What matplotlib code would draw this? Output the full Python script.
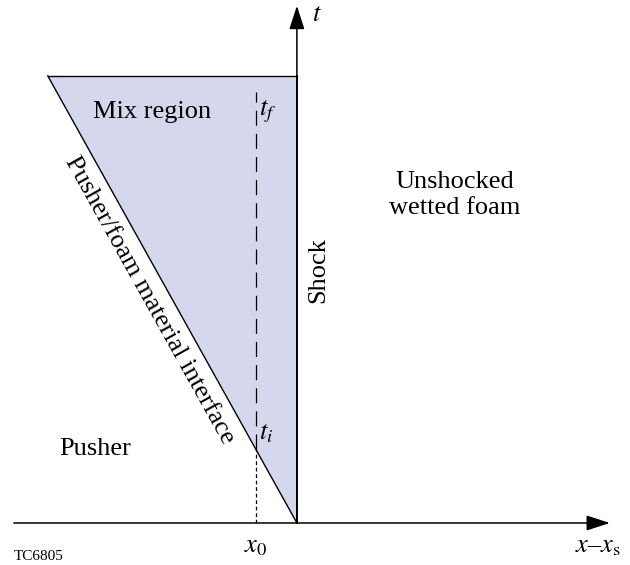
import numpy as np
import matplotlib.pyplot as plt

plt.rcParams['font.family'] = 'Liberation Serif'
plt.rcParams['mathtext.fontset'] = 'stix'

# diagram quantities (shock sits at x - x_s = 0, t = 0 at the origin)
t_f = 1.0            # end of the mix region
x_left = -0.557      # interface position at t_f
x_0 = -0.092         # probe position
t_i = t_f * x_0 / x_left   # time the interface reaches x_0

axis_x = (-0.633, 0.700)
axis_t = (0.0, 1.157)

fig = plt.figure(figsize=(6.3, 5.65), dpi=100)
ax = fig.add_axes([0, 0, 1, 1])
ax.set_xlim(-0.664, 0.745)
ax.set_ylim(-0.094, 1.170)
ax.axis('off')

# shaded mix region between interface and shock
ax.fill([x_left, 0, 0], [t_f, t_f, 0], color='#d5d7ed', lw=0, zorder=1)
ax.plot([x_left, 0], [t_f, t_f], color='black', lw=1.0, zorder=2)
ax.plot([x_left, 0], [t_f, 0], color='black', lw=1.0, zorder=2)
ax.plot([0, 0], [0, t_f], color='black', lw=1.3, zorder=2)

# x_0 line: long dashes inside the mix region, short dashes below t_i
ax.plot([x_0, x_0], [t_i, t_f - 0.036], color='black', lw=0.9,
        dashes=(12, 6.5), zorder=2)
ax.plot([x_0, x_0], [0, t_i], color='black', lw=0.9,
        dashes=(3, 2.2), zorder=2)

# axes with arrow heads
arrow = dict(arrowstyle='-|>,head_length=1.45,head_width=0.47',
             color='black', lw=1.1, shrinkA=0, shrinkB=0)
ax.annotate('', xy=(axis_x[1], 0), xytext=(axis_x[0], 0), arrowprops=arrow)
ax.annotate('', xy=(0, axis_t[1]), xytext=(0, axis_t[0]), arrowprops=arrow)

fs = 19
ax.text(0.045, 1.136, r'$t$', fontsize=fs, ha='center', va='center')
ax.text(0.673, -0.053, r'$x$–$x_{\mathrm{s}}$', fontsize=fs,
        ha='center', va='center')
ax.text(x_0, -0.053, r'$x_0$', fontsize=fs, ha='center', va='center')
ax.text(x_0 + 0.008, t_f - 0.08, r'$t_f$', fontsize=fs, ha='left', va='center')
ax.text(x_0 + 0.008, t_i + 0.035, r'$t_i$', fontsize=fs, ha='left', va='center')

ax.text(-0.324, t_f - 0.081, 'Mix region', fontsize=fs, ha='center', va='center')
ax.text(0.353, 0.734, 'Unshocked\nwetted foam', fontsize=fs, ha='center',
        va='center', linespacing=1.2)
ax.text(0.047, 0.566, 'Shock', fontsize=fs, rotation=90, ha='center', va='center')
ax.text(-0.452, 0.166, 'Pusher', fontsize=fs, ha='center', va='center')

# label along the interface, rotated to its on-screen slope
p1 = ax.transData.transform((x_left, t_f))
p2 = ax.transData.transform((0, 0))
ang = np.degrees(np.arctan2(p2[1] - p1[1], p2[0] - p1[0]))
ax.text(-0.329, 0.499, 'Pusher/foam material interface', fontsize=fs,
        rotation=ang, rotation_mode='anchor', ha='center', va='center')

ax.text(-0.634, -0.075, 'TC6805', fontsize=11, ha='left', va='center')

fig.savefig('out.png', dpi=100)
